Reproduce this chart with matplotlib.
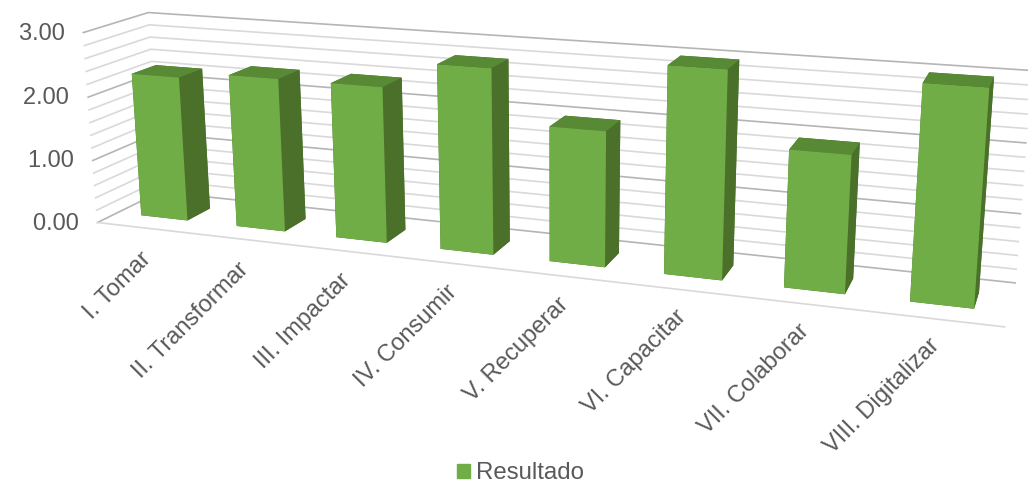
import numpy as np
import matplotlib
matplotlib.use("Agg")
import matplotlib.pyplot as plt
from matplotlib.patches import Patch
from mpl_toolkits.mplot3d import proj3d

plt.rcParams['font.family'] = ['Liberation Sans', 'DejaVu Sans']

categories = ["I. Tomar", "II. Transformar", "III. Impactar", "IV. Consumir",
              "V. Recuperar", "VI. Capacitar", "VII. Colaborar", "VIII. Digitalizar"]
resultado = [2.28, 2.38, 2.38, 2.78, 2.0, 3.0, 1.96, 3.0]
grid_levels = [0, 0.2, 0.4, 0.6, 0.8, 1.0, 1.2, 1.4, 1.6, 1.8, 2.0, 2.2, 2.4, 2.6, 2.8, 3.0]
value_ticks = [0, 1, 2, 3]

text_color = "#595959"
front_color = "#70AD47"
side_color = "#4A7029"
top_color = "#588A36"

n = len(categories)
depth = 1.0
bar_w = 0.49
bar_d = 0.38

fig = plt.figure(figsize=(10.28, 4.83), dpi=100, facecolor="white")
# 3d axes are always square, so make it as wide as the figure and let it hang over
ax = fig.add_axes([0.001, -0.408, 1.0, 2.128], projection="3d", computed_zorder=False)
ax.set_proj_type("persp", focal_length=0.3)
ax.view_init(elev=15, azim=-70, roll=0.25)
ax.set_box_aspect((8, 1.05, 1.76), zoom=0.92)
ax.set_xlim(0, n)
ax.set_ylim(0, depth)
ax.set_zlim(0, 3)
ax.set_axis_off()
ax.patch.set_alpha(0)

# walls
for lev in grid_levels:
    major = float(lev).is_integer()
    c = "#B5B5B5" if major else "#D9D9D9"
    ax.plot([0, 0, n], [0, depth, depth], [lev, lev, lev], color=c, lw=1.2, zorder=1)
ax.plot([0, n], [0, 0], [0, 0], color="#D9D9D9", lw=1.2, zorder=1)

# bars
xs = np.arange(n) + 0.5 - bar_w / 2
ys = np.full(n, (depth - bar_d) / 2)
face_colors = []
for i in range(n):
    # bottom, top, front, back, left, right
    face_colors += [side_color, top_color, front_color, side_color, side_color, side_color]
ax.bar3d(xs, ys, np.zeros(n), bar_w, bar_d, resultado, color=face_colors,
         shade=False, zorder=2, edgecolor="none")

# labels: rotated text needs 2d positions
M = ax.get_proj()
for v in value_ticks:
    px, py, _ = proj3d.proj_transform(0, 0, v, M)
    ax.annotate(f"{v:.2f}   ", (px, py), xytext=(1, -1), textcoords="offset pixels",
                ha="right", va="center", fontsize=17, color=text_color, annotation_clip=False)
for i, name in enumerate(categories):
    px, py, _ = proj3d.proj_transform(i + 0.5, 0, 0, M)
    # Excel pushes the labels away from the floor edge, a bit less to the right
    ax.annotate(name, (px, py), xytext=(-5 - 4 * i / (n - 1), -20 + 5 * i / (n - 1)),
                textcoords="offset pixels", ha="right", va="top", rotation=45,
                rotation_mode="anchor", fontsize=17, color=text_color, annotation_clip=False)

fig.legend(handles=[Patch(color=front_color, label="Resultado")], loc="lower center",
           bbox_to_anchor=(0.506, -0.003), frameon=False, fontsize=17.3, labelcolor=text_color,
           handlelength=0.55, handleheight=0.55, handletextpad=0.25, borderpad=0, borderaxespad=0)

fig.savefig("out.png", dpi=100)
